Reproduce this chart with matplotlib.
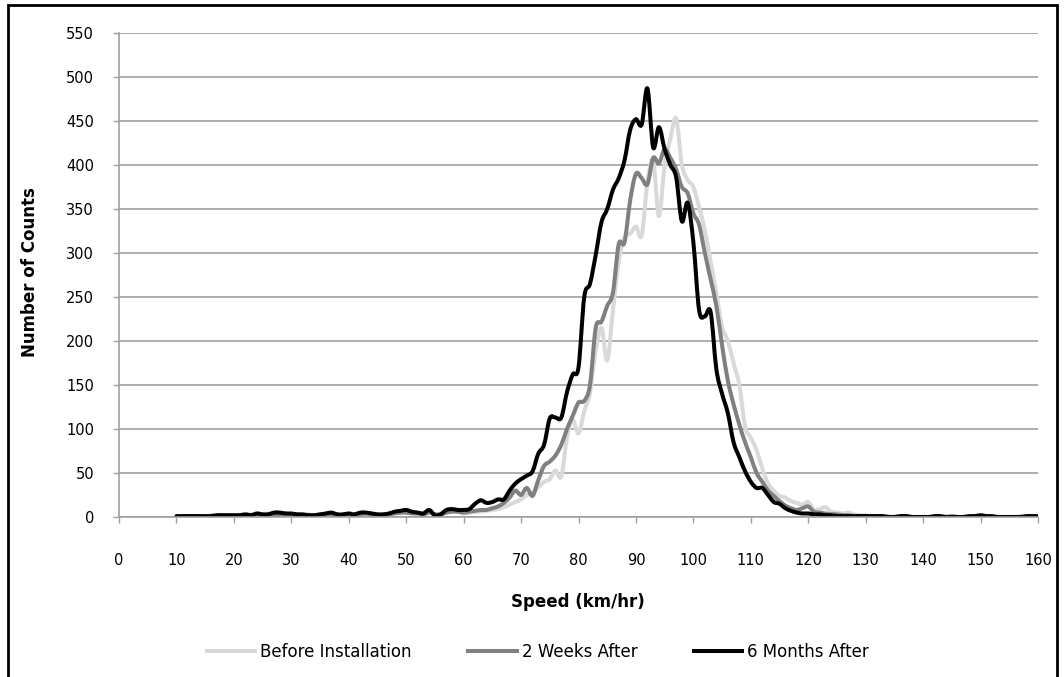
import numpy as np
import matplotlib
matplotlib.use('Agg')
import matplotlib.pyplot as plt
from matplotlib.patches import Rectangle, PathPatch
from matplotlib.path import Path
from matplotlib.lines import Line2D

# speed bins (km/hr)
speed = np.arange(10, 161)

before = [
    0, 1, 1, 0, 1, 1, 2, 1, 1, 2,
    2, 1, 2, 3, 2, 3, 4, 3, 4, 3,
    3, 3, 2, 3, 2, 3, 3, 4, 3, 2,
    3, 3, 4, 3, 4, 3, 3, 4, 5, 4,
    6, 5, 4, 5, 6, 3, 4, 6, 7, 6,
    4, 5, 6, 6, 7, 8, 9, 11, 14, 17,
    20, 25, 28, 34, 40, 43, 53, 46, 90, 110,
    95, 120, 141, 190, 215, 178, 235, 290, 318, 322,
    330, 320, 380, 405, 342, 400, 430, 453, 400, 383,
    375, 352, 326, 290, 254, 216, 200, 175, 150, 103,
    90, 76, 55, 38, 30, 24, 22, 18, 16, 14,
    17, 8, 9, 11, 6, 5, 4, 5, 3, 2,
    2, 1, 1, 1, 1, 0, 1, 0, 0, 0,
    0, 0, 0, 1, 0, 0, 0, 0, 0, 0,
    0, 0, 0, 0, 0, 0, 0, 1, 0, 0,
    0,
]

two_weeks = [
    0, 0, 1, 1, 1, 0, 1, 1, 2, 1,
    1, 2, 2, 1, 2, 2, 3, 3, 2, 3,
    3, 2, 2, 2, 2, 2, 3, 3, 2, 2,
    3, 2, 3, 4, 3, 2, 2, 3, 4, 5,
    5, 4, 4, 3, 5, 3, 3, 5, 6, 6,
    5, 6, 7, 8, 8, 10, 12, 16, 22, 30,
    25, 33, 24, 42, 58, 63, 70, 82, 100, 115,
    130, 132, 150, 215, 222, 240, 255, 310, 312, 360,
    390, 385, 378, 408, 402, 418, 408, 395, 375, 368,
    345, 332, 300, 270, 240, 195, 155, 128, 105, 85,
    68, 50, 40, 30, 24, 18, 13, 10, 8, 10,
    12, 6, 5, 4, 3, 3, 2, 2, 1, 1,
    1, 1, 1, 0, 0, 0, 0, 1, 0, 0,
    0, 0, 0, 0, 0, 1, 0, 0, 0, 0,
    0, 1, 0, 0, 0, 0, 0, 0, 0, 0,
    0,
]

six_months = [
    1, 1, 1, 1, 1, 1, 1, 2, 2, 2,
    2, 2, 3, 2, 4, 3, 3, 5, 5, 4,
    4, 3, 3, 2, 2, 3, 4, 5, 3, 3,
    4, 3, 5, 5, 4, 3, 3, 4, 6, 7,
    8, 6, 5, 4, 8, 2, 3, 8, 9, 8,
    8, 9, 15, 19, 16, 17, 20, 20, 30, 38,
    43, 47, 52, 72, 82, 112, 113, 113, 142, 162,
    170, 250, 265, 298, 335, 350, 372, 385, 405, 440,
    452, 446, 487, 420, 443, 418, 400, 386, 336, 357,
    312, 235, 228, 233, 168, 140, 118, 85, 68, 52,
    40, 33, 33, 25, 17, 15, 10, 7, 5, 4,
    4, 3, 3, 2, 2, 1, 1, 1, 1, 1,
    1, 1, 1, 1, 0, 0, 1, 1, 0, 0,
    0, 0, 1, 1, 0, 0, 0, 0, 1, 1,
    2, 1, 1, 0, 0, 0, 0, 0, 1, 1,
    1,
]

series_labels = ['Before Installation', '2 Weeks After', '6 Months After']
series_colors = ['#D9D9D9', '#808080', '#000000']

x_ticks = list(range(0, 161, 10))
y_ticks = list(range(0, 551, 50))

GRID = '#A0A0A0'
LW = 2.9


def smooth_path(x, y):
    # Excel-style smoothed line: cubic Bezier through every point
    x = np.asarray(x, float)
    y = np.asarray(y, float)
    n = len(x)
    verts = [(x[0], y[0])]
    codes = [Path.MOVETO]
    for i in range(n - 1):
        x0, y0 = (x[i - 1], y[i - 1]) if i > 0 else (x[i], y[i])
        x3, y3 = (x[i + 2], y[i + 2]) if i + 2 < n else (x[i + 1], y[i + 1])
        c1 = (x[i] + (x[i + 1] - x0) / 6, y[i] + (y[i + 1] - y0) / 6)
        c2 = (x[i + 1] - (x3 - x[i]) / 6, y[i + 1] - (y3 - y[i]) / 6)
        verts += [c1, c2, (x[i + 1], y[i + 1])]
        codes += [Path.CURVE4] * 3
    return Path(verts, codes)


fig = plt.figure(figsize=(10.64, 6.77), dpi=100)
ax = fig.add_axes([119 / 1064, 1 - 517 / 677, (1038 - 119) / 1064, (517 - 33) / 677])

handles = []
for vals, lab, col in zip([before, two_weeks, six_months], series_labels, series_colors):
    patch = PathPatch(smooth_path(speed, vals), fill=False, ec=col, lw=LW,
                      joinstyle='round', capstyle='round', transform=ax.transData)
    ax.add_patch(patch)
    handles.append(Line2D([], [], color=col, lw=LW, label=lab))

ax.set_xlim(0, 160)
ax.set_ylim(0, 550)
ax.set_xticks(x_ticks)
ax.set_yticks(y_ticks)
ax.tick_params(axis='both', direction='out', length=4, width=1, color=GRID,
               labelsize=10.5, labelcolor='#000000')
ax.tick_params(axis='x', pad=22)
ax.tick_params(axis='y', pad=14)
ax.grid(axis='y', color=GRID, lw=1.2)
ax.set_axisbelow(True)
for side in ['top', 'right']:
    ax.spines[side].set_visible(False)
for side in ['left', 'bottom']:
    ax.spines[side].set_color(GRID)
    ax.spines[side].set_linewidth(1.2)

fig.text(578 / 1064, 1 - 602 / 677, 'Speed (km/hr)', ha='center', va='center',
         fontsize=12, fontweight='bold')
fig.text(30 / 1064, 1 - 272 / 677, 'Number of Counts', ha='center', va='center',
         rotation=90, fontsize=12, fontweight='bold')

fig.legend(handles=handles, loc='center', bbox_to_anchor=(538 / 1064, 1 - 652 / 677),
           ncol=3, frameon=False, fontsize=12, handlelength=2.9, handletextpad=0.3,
           columnspacing=3.4)

# outer frame
fig.patches.append(Rectangle((8 / 1064, -0.01), (1057 - 8) / 1064, 1 - 5 / 677 + 0.01,
                             transform=fig.transFigure, fill=False, ec='black', lw=2))

fig.savefig('out.png', dpi=100)
plt.close()
